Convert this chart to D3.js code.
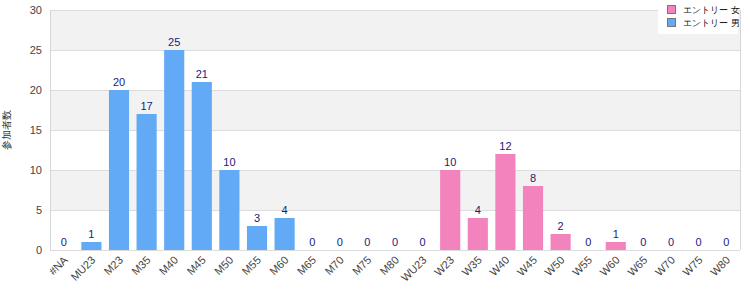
<!DOCTYPE html>
<html>
<head>
<meta charset="utf-8">
<script src="https://cdn.jsdelivr.net/npm/d3@7"></script>
<style>
  body { margin: 0; background: #fff; }
  text { font-family: "Liberation Sans", Arial, sans-serif; }
</style>
</head>
<body>
<script>
// categories and counts
var categories = ["#NA","MU23","M23","M35","M40","M45","M50","M55","M60","M65","M70","M75","M80",
                  "WU23","W23","W35","W40","W45","W50","W55","W60","W65","W70","W75","W80"];
var counts = [0,1,20,17,25,21,10,3,4,0,0,0,0,0,10,4,12,8,2,0,1,0,0,0,0];
var yTicks = [0,5,10,15,20,25,30];
var legendLabels = ["エントリー 女","エントリー 男"];
var yLabel = "参加者数";

var blue = "#62aaf5", pink = "#f383bd";

var width = 750, height = 300;
var margin = {top: 10, right: 10, bottom: 50, left: 50};

var svg = d3.select("body").append("svg")
    .attr("width", width)
    .attr("height", height);

var x = d3.scaleBand()
    .domain(categories)
    .range([margin.left, width - margin.right])
    .paddingInner(0.27)
    .paddingOuter(0.135);

var y = d3.scaleLinear()
    .domain([0, 30])
    .range([height - margin.bottom, margin.top]);

// alternating bands
for (var i = 0; i < yTicks.length - 1; i++) {
  if (i % 2 == 1) {
    svg.append("rect")
      .attr("x", margin.left)
      .attr("y", y(yTicks[i+1]))
      .attr("width", width - margin.right - margin.left)
      .attr("height", y(yTicks[i]) - y(yTicks[i+1]))
      .style("fill", "#f2f2f2");
  }
}

// grid lines
svg.append("g")
  .selectAll("line")
  .data(yTicks)
  .enter().append("line")
  .attr("x1", margin.left)
  .attr("x2", width - margin.right)
  .attr("y1", function(d) { return Math.round(y(d)) + 0.5; })
  .attr("y2", function(d) { return Math.round(y(d)) + 0.5; })
  .style("stroke", "#dcdcdc");

// frame
svg.append("line")
  .attr("x1", margin.left + 0.5).attr("x2", margin.left + 0.5)
  .attr("y1", y(30)).attr("y2", y(0))
  .style("stroke", "#d6d6d6");
svg.append("line")
  .attr("x1", width - margin.right + 0.5).attr("x2", width - margin.right + 0.5)
  .attr("y1", y(30)).attr("y2", y(0))
  .style("stroke", "#d6d6d6");

// y tick labels
svg.append("g")
  .selectAll("text")
  .data(yTicks)
  .enter().append("text")
  .attr("x", margin.left - 8)
  .attr("y", function(d) { return y(d); })
  .attr("dy", "0.35em")
  .attr("text-anchor", "end")
  .style("font-size", "11px")
  .style("fill", "#444")
  .text(function(d) { return d; });

// y axis title
svg.append("text")
  .attr("transform", "translate(6," + ((margin.top + height - margin.bottom) / 2) + ") rotate(-90)")
  .attr("text-anchor", "middle")
  .attr("dy", "0.35em")
  .style("font-size", "10px")
  .style("fill", "#333")
  .text(yLabel);

// bars
svg.append("g")
  .selectAll("rect")
  .data(counts)
  .enter().append("rect")
  .attr("x", function(d, i) { return x(categories[i]); })
  .attr("y", function(d) { return y(d); })
  .attr("width", x.bandwidth())
  .attr("height", function(d) { return y(0) - y(d); })
  .style("fill", function(d, i) { return categories[i].charAt(0) == "W" ? pink : blue; });

// value labels
svg.append("g")
  .selectAll("text")
  .data(counts)
  .enter().append("text")
  .attr("x", function(d, i) { return x(categories[i]) + x.bandwidth() / 2; })
  .attr("y", function(d) { return y(d) - 4; })
  .attr("text-anchor", "middle")
  .style("font-size", "11px")
  .style("fill", "#1a1a80")
  .text(function(d) { return d; });

// x labels
svg.append("g")
  .selectAll("text")
  .data(categories)
  .enter().append("text")
  .attr("transform", function(d) {
    return "translate(" + (x(d) + x.bandwidth() / 2 + 2) + "," + (y(0) + 8) + ") rotate(-45)";
  })
  .attr("text-anchor", "end")
  .attr("dy", "0.35em")
  .style("font-size", "11px")
  .style("fill", "#444")
  .text(function(d) { return d; });

// legend
var lg = svg.append("g").attr("transform", "translate(658,0)");
lg.append("rect")
  .attr("x", 0).attr("y", 0)
  .attr("width", 80).attr("height", 34)
  .style("fill", "#fff");
[pink, blue].forEach(function(c, i) {
  lg.append("rect")
    .attr("x", 9.5).attr("y", 5.5 + i * 13)
    .attr("width", 8).attr("height", 8)
    .style("fill", c)
    .style("stroke", "#777");
  lg.append("text")
    .attr("x", 25).attr("y", 10 + i * 13)
    .attr("dy", "0.35em")
    .style("font-size", "9px")
    .style("fill", "#111")
    .text(legendLabels[i]);
});
</script>
</body>
</html>
